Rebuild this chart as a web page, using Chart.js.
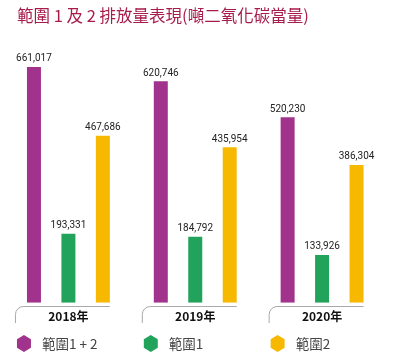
<!DOCTYPE html>
<html>
<head>
<meta charset="utf-8">
<script src="https://cdn.jsdelivr.net/npm/chart.js@4"></script>
<style>
  html, body { margin: 0; padding: 0; background: #fff; }
  #wrap { width: 393px; height: 356px; position: relative; }
</style>
</head>
<body>
<div id="wrap"><canvas id="c" width="393" height="356"></canvas></div>
<script>
const titleText = "範圍 1 及 2 排放量表現(噸二氧化碳當量)";
const categories = ["2018年", "2019年", "2020年"];
const seriesNames = ["範圍1 + 2", "範圍1", "範圍2"];
const scope12 = [661017, 620746, 520230];
const scope1 = [193331, 184792, 133926];
const scope2 = [467686, 435954, 386304];
const seriesColors = ["#a2338d", "#22a35c", "#f7b800"];

const fmt = v => v.toLocaleString("en-US");

const decorPlugin = {
  id: "decor",
  afterDatasetsDraw(chart) {
    const ctx = chart.ctx;
    ctx.save();
    // value labels
    ctx.font = "10px Roboto, 'Noto Sans', sans-serif";
    ctx.fillStyle = "#222";
    ctx.textAlign = "center";
    ctx.textBaseline = "bottom";
    chart.data.datasets.forEach((ds, di) => {
      const meta = chart.getDatasetMeta(di);
      meta.data.forEach((el, i) => {
        ctx.fillText(fmt(ds.data[i]), el.x, el.y - 3);
      });
    });
    // brackets & year labels
    const m0 = chart.getDatasetMeta(0);
    const m2 = chart.getDatasetMeta(2);
    const xs = chart.scales.x;
    categories.forEach((cat, i) => {
      const p = m0.data[i], y = m2.data[i];
      const left = p.x - p.width / 2 - 11.5;
      const right = y.x + y.width / 2;
      const top = 306.5, bottom = 323, r = 8;
      ctx.strokeStyle = "#a9a9a9";
      ctx.lineWidth = 1;
      ctx.beginPath();
      ctx.moveTo(left, bottom);
      ctx.lineTo(left, top + r);
      ctx.arcTo(left, top, left + r, top, r);
      ctx.lineTo(right, top);
      ctx.stroke();
      ctx.fillStyle = "#111";
      ctx.font = "bold 12px 'Noto Sans CJK TC', 'Noto Sans', sans-serif";
      ctx.textAlign = "center";
      ctx.textBaseline = "middle";
      ctx.fillText(cat, xs.getPixelForValue(i), 316);
    });
    // legend
    chart.data.datasets.forEach((ds, di) => {
      const cx = m0.data[di].x - 10, cy = 343.5;
      const rr = 8.5;
      ctx.fillStyle = ds.backgroundColor;
      ctx.beginPath();
      for (let k = 0; k < 6; k++) {
        const a = Math.PI / 2 + k * Math.PI / 3;
        const px = cx + rr * Math.cos(a) * 0.95, py = cy + rr * Math.sin(a);
        if (k === 0) ctx.moveTo(px, py); else ctx.lineTo(px, py);
      }
      ctx.closePath();
      ctx.fill();
      ctx.fillStyle = "#444";
      ctx.font = "13.5px 'Noto Sans CJK TC', 'Noto Sans', sans-serif";
      ctx.textAlign = "left";
      ctx.textBaseline = "middle";
      ctx.fillText(ds.label, cx + 18, cy);
    });
    // title
    ctx.fillStyle = "#a81c4c";
    ctx.font = "16.5px 'Noto Sans CJK TC', 'Noto Sans', sans-serif";
    ctx.textAlign = "left";
    ctx.textBaseline = "middle";
    ctx.fillText(titleText, 17, 16);
    ctx.restore();
  }
};

new Chart(document.getElementById("c"), {
  type: "bar",
  data: {
    labels: categories,
    datasets: [
      { label: seriesNames[0], data: scope12, backgroundColor: seriesColors[0] },
      { label: seriesNames[1], data: scope1, backgroundColor: seriesColors[1] },
      { label: seriesNames[2], data: scope2, backgroundColor: seriesColors[2] }
    ]
  },
  options: {
    responsive: false,
    animation: false,
    layout: { padding: { left: 5, right: 7.5, top: 53, bottom: 53.3 } },
    datasets: { bar: { categoryPercentage: 0.815, barPercentage: 0.406 } },
    scales: {
      x: { display: false },
      y: { display: false, min: 0, max: 700000 }
    },
    plugins: { legend: { display: false }, title: { display: false }, tooltip: { enabled: false } }
  },
  plugins: [decorPlugin]
});
</script>
</body>
</html>
